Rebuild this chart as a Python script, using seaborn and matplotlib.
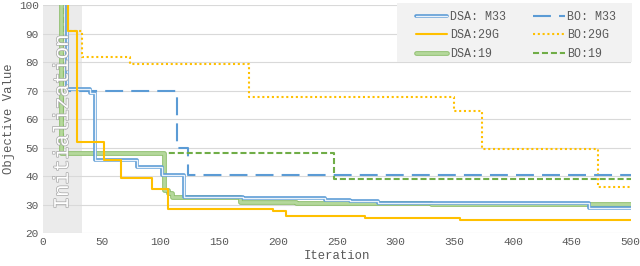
import matplotlib
matplotlib.use("Agg")
import matplotlib.pyplot as plt
import matplotlib.patheffects as pe
from matplotlib.lines import Line2D
from matplotlib.patches import Rectangle
import seaborn as sns

# step curves: x where the value changes, y the new value
dsa_m33_x = [0, 20, 23, 40, 44, 80, 101, 120, 170, 240, 261, 285, 465, 500]
dsa_m33_y = [130, 70.4, 70.4, 69.3, 45.6, 43.3, 40.3, 32.8, 32.3, 31.7, 31.2, 30.6, 28.8, 28.8]

bo_m33_x = [0, 20, 114, 123, 500]
bo_m33_y = [130, 70, 49.8, 40.3, 40.3]

dsa_29g_x = [0, 21, 29, 52, 66, 93, 106, 196, 207, 274, 355, 500]
dsa_29g_y = [130, 90.8, 52, 45.6, 39.2, 35.6, 28.3, 27.6, 26.1, 25.4, 24.6, 24.6]

bo_29g_x = [0, 21, 33, 74, 175, 350, 374, 472, 500]
bo_29g_y = [130, 90.8, 81.7, 79.3, 67.8, 62.8, 49.5, 36.3, 36.3]

dsa_19_x = [0, 15, 103, 106, 110, 168, 215, 330, 500]
dsa_19_y = [130, 48, 35, 34, 32.6, 30.9, 30.5, 30.2, 30.2]

bo_19_x = [0, 17, 248, 500]
bo_19_y = [130, 48, 39, 39]

init_end = 33

BLUE = "#5b9bd5"
ORANGE = "#ffc000"
GREEN = "#70ad47"
LIGHT_GREEN = "#b5d89c"
GREY = "#595959"

sns.set_style("white")
plt.rcParams["font.family"] = ["Liberation Mono", "DejaVu Sans Mono"]

fig = plt.figure(figsize=(6.4, 2.66), dpi=100)
ax = fig.add_axes([0.0672, 0.124, 0.918, 0.857])

ax.axvspan(0, init_end, color="#ebebeb", zorder=0, lw=0)

blue_pe = [pe.Stroke(linewidth=2.6, foreground=BLUE), pe.Normal()]
green_pe = [pe.Stroke(linewidth=3.4, foreground="#8fbf6e"), pe.Normal()]

styles = [
    ("DSA: M33", dsa_m33_x, dsa_m33_y, dict(color="#eaf2fb", lw=1.0, path_effects=blue_pe)),
    ("DSA:29G", dsa_29g_x, dsa_29g_y, dict(color=ORANGE, lw=1.5)),
    ("DSA:19", dsa_19_x, dsa_19_y, dict(color=LIGHT_GREEN, lw=2.0, path_effects=green_pe)),
    ("BO: M33", bo_m33_x, bo_m33_y, dict(color=BLUE, lw=1.5, linestyle=(0, (8.6, 3.9)))),
    ("BO:29G", bo_29g_x, bo_29g_y, dict(color=ORANGE, lw=1.5, linestyle=(0, (1, 1.3)))),
    ("BO:19", bo_19_x, bo_19_y, dict(color=GREEN, lw=1.5, linestyle=(0, (2.9, 1.4)))),
]

draw_order = [4, 3, 5, 2, 0, 1]
for i in draw_order:
    label, xs, ys, kw = styles[i]
    sns.lineplot(x=xs, y=ys, ax=ax, drawstyle="steps-post", estimator=None,
                 sort=False, legend=False, **kw)

ax.text(16.5, 59, "Initialization", rotation=90, ha="center", va="center",
        fontsize=15, color="white",
        path_effects=[pe.Stroke(linewidth=1.0, foreground="#a6a6a6"), pe.Normal()])

ax.set_xlim(0, 500)
ax.set_ylim(20, 100)
ax.set_xticks(range(0, 501, 50))
ax.set_yticks(range(20, 101, 10))
ax.yaxis.grid(True, color="#d9d9d9", lw=0.8)
ax.set_axisbelow(True)
for s in ax.spines.values():
    s.set_visible(False)
ax.tick_params(axis="both", labelsize=8, colors=GREY, length=0, pad=3)
ax.set_xlabel("Iteration", fontsize=8.8, color=GREY, labelpad=2)
ax.set_ylabel("Objective Value", fontsize=8.8, color=GREY, labelpad=3)

# grey legend panel
fig.patches.append(Rectangle((397 / 640, 1 - 62 / 266), 235 / 640, 59 / 266,
                             transform=fig.transFigure, facecolor="#f2f2f2",
                             edgecolor="none", zorder=4))

handles = []
for label, xs, ys, kw in styles:
    handles.append(Line2D([0], [0], label=label, solid_capstyle="round", **kw))
leg = fig.legend(handles=handles, ncol=2, loc="upper left",
                 bbox_to_anchor=(410 / 640, 1 - 5 / 266),
                 fontsize=8.4, frameon=False, handlelength=2.7, handletextpad=0.25,
                 columnspacing=2.3, labelspacing=0.55, borderpad=0)
leg.set_zorder(6)
for t in leg.get_texts():
    t.set_color(GREY)

fig.savefig("out.png", dpi=100)
